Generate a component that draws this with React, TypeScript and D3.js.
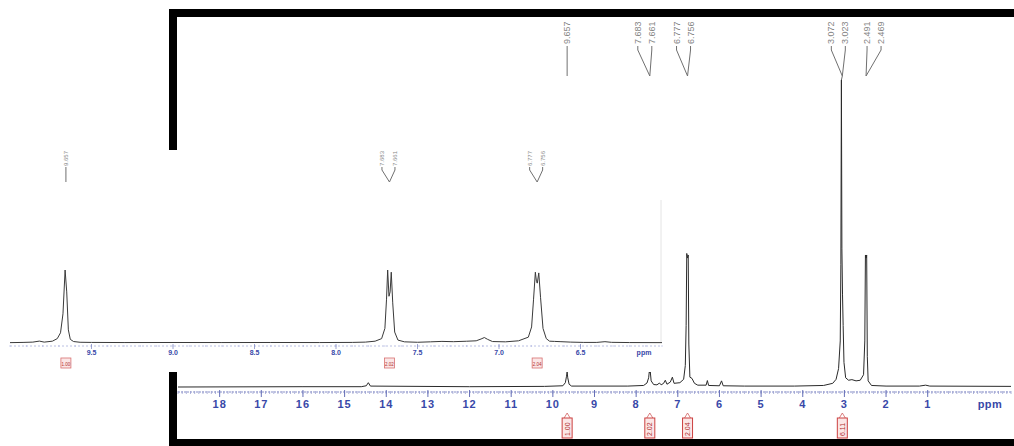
import React from "react";
import * as d3 from "d3";

// ---------- DATA ----------
// Main 1H spectrum, [ppm, relative intensity %]
const mainSpectrum: [number, number][] = [
  [19.0, 0], [16.0, 0.1], [14.6, 0.1], [14.48, 0.4], [14.43, 1.4], [14.38, 0.3], [12.0, 0.1],
  [10.2, 0.2], [9.76, 0.4], [9.70, 1.4], [9.672, 3.5], [9.657, 4.9], [9.642, 3.0], [9.61, 0.9], [9.55, 0.3],
  [8.2, 0.3], [7.82, 0.5], [7.74, 1.3], [7.70, 3.0], [7.683, 5.2], [7.672, 4.6], [7.661, 5.0], [7.64, 2.0], [7.58, 0.8],
  [7.50, 0.7], [7.44, 1.3], [7.40, 0.7], [7.34, 1.2], [7.30, 2.2], [7.26, 0.9], [7.18, 1.6], [7.13, 3.2], [7.09, 1.2],
  [6.95, 1.4], [6.86, 2.5], [6.82, 7], [6.80, 20], [6.785, 43.5], [6.766, 42], [6.75, 43], [6.735, 14], [6.71, 3.2],
  [6.66, 2.8], [6.60, 1.2], [6.52, 0.6], [6.32, 0.6], [6.29, 2.1], [6.26, 0.5], [6.0, 0.4], [5.95, 2.0], [5.91, 0.4],
  [5.4, 0.3], [4.2, 0.3], [3.5, 0.5], [3.28, 1.2], [3.2, 2.5], [3.14, 6], [3.10, 15], [3.085, 40], [3.072, 100],
  [3.06, 45], [3.045, 30], [3.03, 20], [3.01, 8], [2.97, 3], [2.90, 2.2], [2.82, 2.4], [2.72, 2.0], [2.62, 2.2],
  [2.54, 4], [2.51, 15], [2.495, 43], [2.48, 42], [2.465, 43], [2.45, 10], [2.43, 2], [2.35, 0.5], [2.0, 0.3],
  [1.2, 0.3], [1.05, 0.6], [0.95, 0.3], [-1.0, 0.2],
];

// Expanded region (inset), [ppm, relative intensity %]
const insetSpectrum: [number, number][] = [
  [10.0, 0.5], [9.92, 0.8], [9.86, 1.2], [9.82, 2.6], [9.79, 1.2], [9.74, 2.5], [9.71, 6], [9.69, 14],
  [9.675, 40], [9.662, 100], [9.652, 70], [9.642, 18], [9.63, 5], [9.61, 2], [9.57, 1], [9.50, 0.8],
  [9.3, 0.6], [9.0, 0.7], [8.7, 0.6], [8.4, 0.7], [8.1, 0.6], [7.9, 0.8],
  [7.82, 1.2], [7.76, 2.5], [7.72, 6], [7.70, 20], [7.690, 60], [7.683, 100], [7.675, 64], [7.668, 70], [7.661, 97],
  [7.652, 55], [7.64, 15], [7.62, 4], [7.58, 1.6], [7.50, 1.0],
  [7.42, 1.6], [7.35, 2.2], [7.28, 1.8], [7.20, 2.4], [7.14, 3.0], [7.11, 5.5], [7.09, 7.5], [7.07, 5], [7.04, 2],
  [6.96, 1.6], [6.88, 3], [6.82, 8], [6.80, 22], [6.788, 60], [6.777, 97], [6.770, 84], [6.765, 82], [6.756, 96],
  [6.745, 62], [6.73, 20], [6.71, 6], [6.69, 2.5], [6.66, 2.2], [6.62, 1.8], [6.56, 1.2], [6.48, 0.8],
  [6.40, 0.8], [6.35, 1.8], [6.31, 0.9], [6.2, 0.6], [6.0, 0.5],
];

const mainTicks = [18, 17, 16, 15, 14, 13, 12, 11, 10, 9, 8, 7, 6, 5, 4, 3, 2, 1];
const insetTicks = [9.5, 9.0, 8.5, 8.0, 7.5, 7.0, 6.5];

// Peak-pick label groups (main)
const mainPeakGroups = [
  { labels: ["9.657"], ppm: 9.657 },
  { labels: ["7.683", "7.661"], ppm: 7.672 },
  { labels: ["6.777", "6.756"], ppm: 6.766 },
  { labels: ["3.072", "3.023"], ppm: 3.05 },
  { labels: ["2.491", "2.469"], ppm: 2.48 },
];
// Peak-pick label groups (inset)
const insetPeakGroups = [
  { labels: ["9.657"], ppm: 9.657 },
  { labels: ["7.683", "7.661"], ppm: 7.672 },
  { labels: ["6.777", "6.756"], ppm: 6.766 },
];

// Integrals
const mainIntegrals = [
  { ppm: 9.657, value: "1.00" },
  { ppm: 7.672, value: "2.02" },
  { ppm: 6.766, value: "2.04" },
  { ppm: 3.05, value: "6.11" },
];
const insetIntegrals = [
  { ppm: 9.657, value: "1.00" },
  { ppm: 7.672, value: "2.02" },
  { ppm: 6.766, value: "2.04" },
];

// ---------- LAYOUT ----------
const W = 1014;
const H = 446;
const mainLabelShift = [0, -5, -4, -4, 8];
const insetLabelShift = [0, -1, -1];
const AXIS_BLUE = "#3848a8";

export default function App() {
  const mx = d3.scaleLinear().domain([19, -1]).range([178, 1011]);
  const my = d3.scaleLinear().domain([0, 100]).range([387, 80]);
  const ix = d3.scaleLinear().domain([10, 6]).range([10, 662]);
  const iy = d3.scaleLinear().domain([0, 100]).range([343, 270]);

  const mainLine = d3
    .line<[number, number]>()
    .x((d) => mx(d[0]))
    .y((d) => my(d[1]));
  const insetLine = d3
    .line<[number, number]>()
    .x((d) => ix(d[0]))
    .y((d) => iy(d[1]));

  const mainMinor = d3.range(-10, 191, 1).map((v) => v / 10).filter((v) => v <= 19 && v >= -1);
  const insetMinor = d3.range(60, 101, 1).map((v) => v / 10);

  const renderGroups = (
    groups: { labels: string[]; ppm: number }[],
    shifts: number[],
    xs: (v: number) => number,
    opts: { textBottom: number; legTop: number; bend: number; bottom: number; font: number; gap: number }
  ) =>
    groups.map((g, gi) => {
      const px = xs(g.ppm);
      const n = g.labels.length;
      return (
        <g key={gi}>
          {g.labels.map((lab, li) => {
            const lx = px + shifts[gi] + (li - (n - 1) / 2) * opts.gap;
            return (
              <g key={li}>
                <text
                  transform={`translate(${lx},${opts.textBottom}) rotate(-90)`}
                  fontSize={opts.font}
                  fontFamily="Liberation Sans, Arial, sans-serif"
                  fill="#858585"
                  dominantBaseline="central"
                >
                  {lab}
                </text>
                <path
                  d={`M${lx},${opts.legTop} L${lx},${opts.bend} L${px},${opts.bottom}`}
                  fill="none"
                  stroke="#707070"
                  strokeWidth={1}
                />
              </g>
            );
          })}
        </g>
      );
    });

  return (
    <svg
      width={W}
      height={H}
      style={{ position: "absolute", left: 0, top: 0, background: "#fff" }}
      fontFamily="Liberation Sans, Arial, sans-serif"
    >
      <rect x={0} y={0} width={W} height={H} fill="#fff" />

      {/* main spectrum */}
      <path d={mainLine(mainSpectrum) || ""} fill="none" stroke="#2a2a2a" strokeWidth={1} />

      {/* main axis ruler */}
      <line x1={mx(19)} x2={mx(-1)} y1={392} y2={392} stroke="#8890c8" strokeWidth={1} strokeDasharray="2,1" />
      {mainMinor.map((v, i) => (
        <line key={i} x1={mx(v)} x2={mx(v)} y1={391} y2={394} stroke="#9aa0d0" strokeWidth={0.8} />
      ))}
      {mainTicks.map((t) => (
        <line key={t} x1={mx(t)} x2={mx(t)} y1={390} y2={397} stroke="#6670b8" strokeWidth={1} />
      ))}
      {mainTicks.map((t) => (
        <text
          key={t}
          x={mx(t)}
          y={408}
          textAnchor="middle"
          fontSize={11}
          fontWeight="bold"
          fill={AXIS_BLUE}
          letterSpacing={1}
        >
          {t}
        </text>
      ))}
      <text x={990} y={408} textAnchor="middle" fontSize={11} fontWeight="bold" fill={AXIS_BLUE} letterSpacing={0.5}>
        ppm
      </text>

      {/* main peak labels */}
      {renderGroups(mainPeakGroups, mainLabelShift, mx, {
        textBottom: 44,
        legTop: 46,
        bend: 50,
        bottom: 76,
        font: 9,
        gap: 14,
      })}
      {/* single-line continuation for tall peak down to apex */}
      <line x1={mx(3.05)} x2={mx(3.072)} y1={76} y2={my(100)} stroke="#6a6a6a" strokeWidth={1} />

      {/* main integrals */}
      {mainIntegrals.map((it, i) => {
        const cx = mx(it.ppm);
        return (
          <g key={i}>
            <path d={`M${cx - 3},${418} L${cx},${413} L${cx + 3},${418}`} fill="none" stroke="#d06060" strokeWidth={0.8} />
            <rect x={cx - 5} y={418} width={10} height={20} fill="#fbe6e6" stroke="#cc4040" strokeWidth={1} />
            <text
              transform={`translate(${cx},${436}) rotate(-90)`}
              fontSize={7}
              fill="#b03030"
              dominantBaseline="central"
            >
              {it.value}
            </text>
          </g>
        );
      })}

      {/* frame bars */}
      <rect x={169} y={9} width={W - 169} height={8} fill="#000" />
      <rect x={169} y={9} width={8} height={H - 9} fill="#000" />
      <rect x={169} y={439} width={W - 169} height={7} fill="#000" />

      {/* inset panel */}
      <rect x={0} y={150} width={665} height={222} fill="#fff" />
      <line x1={661} x2={661} y1={200} y2={342} stroke="#e4e4e4" strokeWidth={1} />
      <path d={insetLine(insetSpectrum) || ""} fill="none" stroke="#3a3a3a" strokeWidth={1} />

      {/* inset ruler */}
      <line x1={ix(10)} x2={ix(6)} y1={346} y2={346} stroke="#a8b0dc" strokeWidth={0.8} strokeDasharray="2,2" />
      {insetMinor.map((v, i) => (
        <line key={i} x1={ix(v)} x2={ix(v)} y1={345} y2={347} stroke="#b0b6e0" strokeWidth={0.6} />
      ))}
      {insetTicks.map((t) => (
        <line key={t} x1={ix(t)} x2={ix(t)} y1={344} y2={349} stroke="#8890c8" strokeWidth={0.8} />
      ))}
      {insetTicks.map((t) => (
        <text key={t} x={ix(t)} y={355} textAnchor="middle" fontSize={7} fontWeight="bold" fill={AXIS_BLUE}>
          {t.toFixed(1)}
        </text>
      ))}
      <text x={644} y={355} textAnchor="middle" fontSize={7} fontWeight="bold" fill={AXIS_BLUE}>
        ppm
      </text>

      {/* inset peak labels */}
      {renderGroups(insetPeakGroups, insetLabelShift, ix, {
        textBottom: 166,
        legTop: 167,
        bend: 170,
        bottom: 182,
        font: 6,
        gap: 13,
      })}

      {/* inset integrals */}
      {insetIntegrals.map((it, i) => {
        const cx = ix(it.ppm);
        return (
          <g key={i}>
            <rect x={cx - 5} y={358} width={10} height={10} fill="#fbe6e6" stroke="#d87070" strokeWidth={0.8} />
            <text x={cx} y={365.5} textAnchor="middle" fontSize={4.5} fill="#b03030">
              {it.value}
            </text>
          </g>
        );
      })}
    </svg>
  );
}
